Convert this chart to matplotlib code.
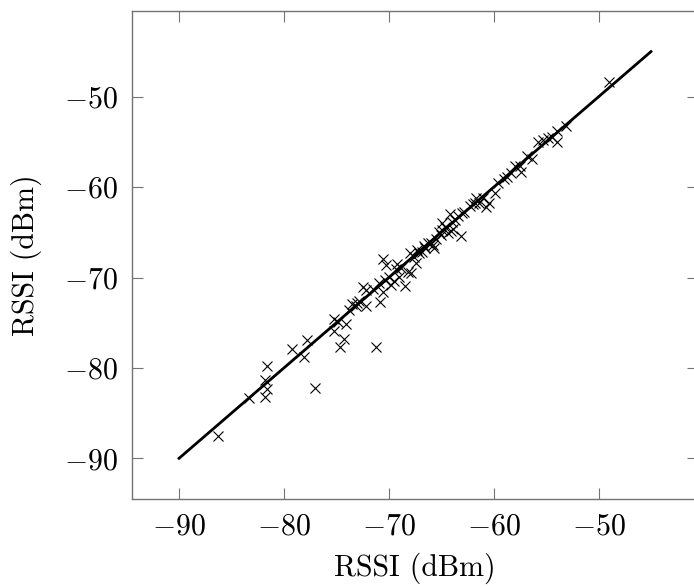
import matplotlib
matplotlib.use("Agg")
import matplotlib.pyplot as plt

# measured RSSI vs. reference RSSI (dBm)
rssi_x = [-86.3, -83.3, -81.8, -81.6, -81.8, -81.6, -77.0, -79.2, -78.1, -77.8,
          -74.7, -71.2, -74.3, -75.2, -74.1, -75.2, -74.8, -73.5, -73.0, -72.2,
          -73.1, -72.5, -72.2, -70.8, -70.6, -70.3, -69.2, -70.9, -70.4, -70.0,
          -69.5, -69.8, -70.6, -69.0, -68.5, -68.2, -67.9, -67.4, -67.6, -67.1,
          -68.0, -66.8, -66.3, -66.5, -65.8, -65.7, -64.9, -64.2, -64.9, -64.1,
          -63.9, -63.1, -64.4, -63.4, -63.0, -62.3, -61.8, -61.4, -61.7, -60.7,
          -60.4, -59.9, -59.6, -58.3, -58.0, -57.4, -57.5, -56.8, -56.3, -55.8,
          -55.3, -54.8, -54.4, -54.0, -54.0, -53.1, -49.0,
          -66.0, -65.5, -65.0, -64.6, -63.7, -62.8, -62.0, -61.0, -59.0, -58.7,
          -67.3, -66.6, -71.5, -72.8, -73.8, -68.8, -69.3, -65.2, -64.0]
rssi_y = [-87.5, -83.3, -83.2, -82.3, -81.3, -79.8, -82.2, -77.9, -78.8, -76.9,
          -77.7, -77.7, -76.8, -75.9, -75.1, -74.6, -74.9, -72.9, -72.8, -73.2,
          -73.2, -71.0, -71.4, -72.7, -68.0, -68.6, -68.5, -70.6, -70.3, -69.9,
          -70.4, -70.8, -71.6, -69.9, -70.9, -69.4, -69.5, -68.4, -67.7, -67.3,
          -67.3, -67.2, -66.2, -66.7, -66.4, -66.7, -64.0, -63.0, -64.7, -64.9,
          -64.6, -65.4, -65.1, -63.2, -62.9, -62.1, -61.8, -61.8, -61.2, -62.2,
          -61.8, -60.6, -59.5, -58.4, -57.7, -58.3, -57.7, -56.6, -56.9, -55.0,
          -54.8, -54.6, -54.4, -55.0, -53.8, -53.2, -48.4,
          -66.2, -65.7, -65.3, -64.4, -63.6, -62.7, -61.9, -61.2, -59.1, -58.9,
          -66.9, -66.5, -71.3, -72.6, -73.6, -68.9, -69.1, -65.0, -63.8]
line_x = [-90, -45]
line_y = [-90, -45]
ticks = [-90, -80, -70, -60, -50]

plt.rcParams["font.family"] = "serif"
plt.rcParams["font.serif"] = ["cmr10"]
plt.rcParams["mathtext.fontset"] = "cm"
plt.rcParams["axes.formatter.use_mathtext"] = True

fig = plt.figure(figsize=(6.94, 5.88), dpi=100)
ax = fig.add_axes([0.190, 0.1514, 0.816, 0.830])

ax.plot(rssi_x, rssi_y, linestyle="none", marker="x", color="black",
        markersize=7, markeredgewidth=0.8, zorder=2)
ax.plot(line_x, line_y, color="black", linewidth=2, zorder=3)

ax.set_xlim(-94.5, -40.5)
ax.set_ylim(-94.5, -40.5)
ax.set_xticks(ticks)
ax.set_yticks(ticks)
ax.tick_params(direction="in", length=8, width=0.8, color="0.45",
               top=True, right=True, labelsize=21.5, pad=10)
for sp in ax.spines.values():
    sp.set_color("0.45")
    sp.set_linewidth(1.0)

ax.set_xlabel("RSSI (dBm)", fontsize=21.5, labelpad=9)
ax.set_ylabel("RSSI (dBm)", fontsize=21.5, labelpad=16)

fig.savefig("out.png", dpi=100)
